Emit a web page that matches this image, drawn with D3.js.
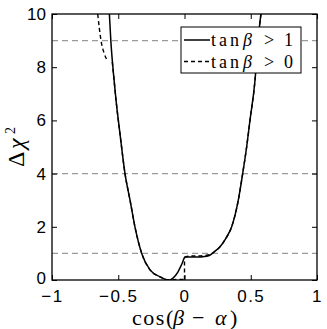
<!DOCTYPE html>
<html><head><meta charset="utf-8">
<script src="https://cdn.jsdelivr.net/npm/d3@7"></script>
<style>body{margin:0;background:#fff}svg{display:block}</style>
</head><body>
<script>
const xTicks = [-1, -0.5, 0, 0.5, 1];
const yTicks = [0, 2, 4, 6, 8, 10];
const refLevels = [1, 4, 9];
const solidX = [-0.567,-0.556,-0.535,-0.517,-0.487,-0.449,-0.411,-0.374,-0.323,-0.26,-0.185,-0.134,-0.11,-0.087,-0.05,-0.02,0.005,0.05,0.10,0.15,0.19,0.23,0.268,0.31,0.356,0.406,0.439,0.469,0.494,0.532,0.555,0.577];
const solidY = [10,9,7.7,6.77,5.5,4,3,2,1,0.38,0.12,0.01,0,0.07,0.3,0.6,0.86,0.86,0.86,0.88,0.93,1.08,1.25,1.55,2.0,3.0,4.0,5.0,6.0,7.5,9,10];
// dashed curve: two pieces (upper-left tail, then main branch)
const dashTailX = [-0.655,-0.63,-0.605,-0.582];
const dashTailY = [10,9,8.5,8.25];
const dashMainX = [-0.545,-0.535,-0.517,-0.487,-0.449,-0.411,-0.374,-0.323,-0.26,-0.185,-0.134,-0.11,-0.06,-0.02,0.0,0.0,0.05,0.10,0.15,0.20,0.23,0.268,0.31,0.356,0.406,0.439,0.469,0.494,0.532,0.555,0.577];
const dashMainY = [8.2,7.7,6.77,5.5,4,3,2,1,0.38,0.12,0.01,0,0.02,0.02,0.02,0.86,0.9,0.9,0.92,0.98,1.08,1.25,1.55,2.0,3.0,4.0,5.0,6.0,7.5,9,10];
const legendRows = [{sym:"tan", greek:"β", rel:">", val:"1", dash:null},{sym:"tan", greek:"β", rel:">", val:"0", dash:"4,3"}];

const W=327,H=329, L=52, R=317, T=14, B=280;
const svg=d3.select("body").append("svg").attr("width",W).attr("height",H);
const x=d3.scaleLinear().domain([-1,1]).range([L,R]);
const y=d3.scaleLinear().domain([0,10]).range([B,T]);

svg.append("clipPath").attr("id","c").append("rect").attr("x",L).attr("y",T).attr("width",R-L).attr("height",B-T);

svg.append("g").selectAll("line").data(refLevels).join("line")
  .attr("x1",L).attr("x2",R).attr("y1",d=>y(d)).attr("y2",d=>y(d))
  .attr("stroke","#9a9a9a").attr("stroke-width",1.2).attr("stroke-dasharray","6,4");

const lineMono=d3.line().x(d=>x(d[0])).y(d=>y(d[1])).curve(d3.curveMonotoneX);
const lineLin=d3.line().x(d=>x(d[0])).y(d=>y(d[1]));
const zip=(a,b)=>a.map((v,i)=>[v,b[i]]);
const g=svg.append("g").attr("clip-path","url(#c)");
const dashStyle=p=>p.attr("fill","none").attr("stroke","#000").attr("stroke-width",1.4).attr("stroke-dasharray","4,3");
dashStyle(g.append("path").datum(zip(dashTailX,dashTailY)).attr("d",lineMono));
const dm=zip(dashMainX,dashMainY);
const jump=dm.findIndex((d,i)=>i>0&&d[0]===dm[i-1][0]);
dashStyle(g.append("path").datum(dm.slice(0,jump)).attr("d",lineMono));
dashStyle(g.append("path").datum(dm.slice(jump-1,jump+1)).attr("d",lineLin));
dashStyle(g.append("path").datum(dm.slice(jump)).attr("d",lineMono));
g.append("path").datum(zip(solidX,solidY)).attr("d",lineMono).attr("fill","none").attr("stroke","#000").attr("stroke-width",1.5);

const tl=5;
const fmt=d=>d===0?"0":(d<0?"−":"")+Math.abs(d);
const ax=svg.append("g").attr("transform",`translate(0,${B})`).call(d3.axisBottom(x).tickValues(xTicks).tickSizeInner(-tl).tickSizeOuter(0).tickPadding(10).tickFormat(fmt));
const ax2=svg.append("g").attr("transform",`translate(0,${T})`).call(d3.axisTop(x).tickValues(xTicks).tickSizeInner(-tl).tickSizeOuter(0).tickFormat(""));
const ay=svg.append("g").attr("transform",`translate(${L},0)`).call(d3.axisLeft(y).tickValues(yTicks).tickSizeInner(-tl).tickSizeOuter(0).tickPadding(6));
const ay2=svg.append("g").attr("transform",`translate(${R},0)`).call(d3.axisRight(y).tickValues(yTicks).tickSizeInner(-tl).tickSizeOuter(0).tickFormat(""));
[ax,ax2,ay,ay2].forEach(a=>{a.select(".domain").remove();a.selectAll("line").attr("stroke","#000").attr("stroke-width",1);
 a.selectAll("text").attr("font-family","'Liberation Sans',Arial,sans-serif").attr("font-size",17).attr("fill","#000");});
ax.selectAll("text").attr("letter-spacing",1.5);
ay.selectAll("text").filter(d=>d===0).attr("dy","0.2em");
svg.append("rect").attr("x",L).attr("y",T).attr("width",R-L).attr("height",B-T).attr("fill","none").attr("stroke","#000").attr("stroke-width",1.3);

// legend
const serif="'Liberation Serif','Times New Roman',serif";
const lg=svg.append("g");
lg.append("rect").attr("x",181).attr("y",27).attr("width",120).attr("height",46).attr("fill","#fff").attr("stroke","#000").attr("stroke-width",1);
legendRows.forEach((d,i)=>{
  const yy=40+i*21.5;
  lg.append("line").attr("x1",184).attr("x2",210).attr("y1",yy).attr("y2",yy).attr("stroke","#000").attr("stroke-width",1.5).attr("stroke-dasharray",d.dash);
  const t=lg.append("text").attr("y",yy+6).attr("font-family",serif).attr("font-size",18).attr("fill","#000");
  t.append("tspan").attr("x",211).attr("letter-spacing",3).text(d.sym);
  t.append("tspan").attr("x",243).attr("font-style","italic").text(d.greek);
  t.append("tspan").attr("x",264).text(d.rel);
  t.append("tspan").attr("x",284).text(d.val);
});

// axis labels
const xl=svg.append("text").attr("y",325).attr("font-family",serif).attr("font-size",22).attr("fill","#000");
xl.append("tspan").attr("x",132).attr("letter-spacing",1.5).text("cos");
xl.append("tspan").attr("x",166).text("(");
xl.append("tspan").attr("x",173).attr("font-style","italic").text("β");
xl.append("tspan").attr("x",192).text("−");
xl.append("tspan").attr("x",215).attr("font-style","italic").text("α");
xl.append("tspan").attr("x",230).text(")");
const yl=svg.append("text").attr("transform","translate(24,168) rotate(-90)").attr("font-family",serif).attr("font-size",24).attr("fill","#000");
yl.append("tspan").attr("x",1).text("Δ");
yl.append("tspan").attr("x",19).attr("font-style","italic").text("χ");
yl.append("tspan").attr("x",34).attr("font-size",14).attr("dy",-9).text("2");
</script>
</body></html>
